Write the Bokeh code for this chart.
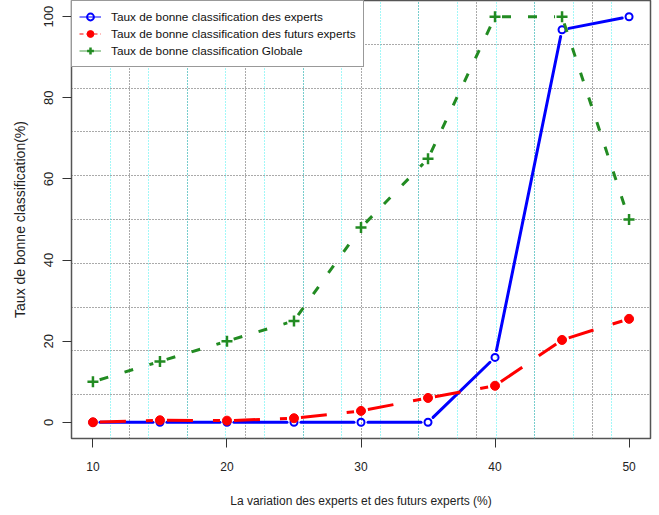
import numpy as np
from bokeh.plotting import figure
from bokeh.models import FixedTicker, Grid, Legend, LegendItem, Range1d, ColumnDataSource
from bokeh.embed import file_html
from bokeh.resources import INLINE

# ---- data ----
variation = [10, 15, 20, 25, 30, 35, 40, 45, 50]
taux_experts = [0, 0, 0, 0, 0, 0, 16, 96.8, 100]
taux_futurs = [0, 0.5, 0.4, 1.0, 2.8, 6.0, 9.0, 20.3, 25.5]
taux_global = [10, 15, 20, 25, 48, 65, 100, 100, 50]

x_ticks = [10, 20, 30, 40, 50]
y_ticks = [0, 20, 40, 60, 80, 100]

labels = [
    "Taux de bonne classification des experts",
    "Taux de bonne classification des futurs experts",
    "Taux de bonne classification Globale",
]
x_title = "La variation des experts et des futurs experts (%)"
y_title = "Taux de bonne classification(%)"

# ---- layout ----
FW, FH = 579, 438
xmin, xmax = min(variation), max(variation)
all_y = taux_experts + taux_futurs + taux_global
ymin, ymax = min(all_y), max(all_y)
xpad = (xmax - xmin) * 0.04
ypad = (ymax - ymin) * 0.04
X0, X1 = xmin - xpad, xmax + xpad
Y0, Y1 = ymin - ypad, ymax + ypad
SX = FW / (X1 - X0)
SY = FH / (Y1 - Y0)

FONT = "'Liberation Sans', Arial, sans-serif"

p = figure(frame_width=FW, frame_height=FH, output_backend="svg", toolbar_location=None,
           x_range=Range1d(X0, X1), y_range=Range1d(Y0, Y1),
           min_border_left=71, min_border_right=8, min_border_top=0, min_border_bottom=40)
p.background_fill_color = "white"
p.border_fill_color = "white"
p.outline_line_color = "#555555"
p.outline_line_width = 1.5
p.xgrid.visible = False
p.ygrid.visible = False

# grids (R style grid(10,10) in black dotted + vertical cyan grid(15))
gx_black = list(np.linspace(X0, X1, 11)[1:-1])
gy_black = list(np.linspace(Y0, Y1, 11)[1:-1])
gx_cyan = list(np.linspace(X0, X1, 16)[1:-1])
p.add_layout(Grid(dimension=0, ticker=FixedTicker(ticks=gx_black), grid_line_color="#555555",
                  grid_line_dash="1 2", grid_line_width=1))
p.add_layout(Grid(dimension=1, ticker=FixedTicker(ticks=gy_black), grid_line_color="#555555",
                  grid_line_dash="1 2", grid_line_width=1))
p.add_layout(Grid(dimension=0, ticker=FixedTicker(ticks=gx_cyan), grid_line_color="#44F0F0",
                  grid_line_dash="1 2", grid_line_width=1))

# axes
for ax in (p.xaxis[0], p.yaxis[0]):
    ax.axis_line_color = None
    ax.major_tick_out = 9
    ax.major_tick_in = 0
    ax.minor_tick_line_color = None
    ax.major_tick_line_color = "#333333"
    ax.major_label_text_color = "#222222"
    ax.axis_label_text_color = "#222222"
    ax.axis_label_text_font_style = "normal"

p.xaxis.ticker = FixedTicker(ticks=x_ticks)
p.yaxis.ticker = FixedTicker(ticks=y_ticks)
p.xaxis.axis_label = x_title
p.yaxis.axis_label = y_title
p.xaxis.major_label_text_font = FONT
p.xaxis.major_label_text_font_size = "12px"
p.xaxis.axis_label_text_font = FONT
p.xaxis.axis_label_text_font_size = "12px"
p.xaxis.major_label_standoff = 14
p.xaxis.axis_label_standoff = 20
p.yaxis.major_label_orientation = "vertical"
p.yaxis.major_label_text_font = FONT
p.yaxis.major_label_text_font_size = "13px"
p.yaxis.axis_label_text_font = FONT
p.yaxis.axis_label_text_font_size = "14px"
p.yaxis.major_label_standoff = 9
p.yaxis.axis_label_standoff = 14


def gapped(xs, ys, gap):
    a, b, c, d = [], [], [], []
    for i in range(len(xs) - 1):
        dx = (xs[i + 1] - xs[i]) * SX
        dy = (ys[i + 1] - ys[i]) * SY
        L = float(np.hypot(dx, dy))
        if L <= 2 * gap:
            continue
        t = gap / L
        a.append(xs[i] + (xs[i + 1] - xs[i]) * t)
        b.append(ys[i] + (ys[i + 1] - ys[i]) * t)
        c.append(xs[i + 1] - (xs[i + 1] - xs[i]) * t)
        d.append(ys[i + 1] - (ys[i + 1] - ys[i]) * t)
    return dict(x0=a, y0=b, x1=c, y1=d)


GAP = 7
BLUE, RED, GREEN = "#0000FF", "#FF0000", "#228B22"

seg_b = p.segment("x0", "y0", "x1", "y1", source=ColumnDataSource(gapped(variation, taux_experts, GAP)),
                  line_color=BLUE, line_width=3, line_cap="round")
sc_b = p.scatter(variation, taux_experts, marker="circle", size=7, fill_color=None,
                 line_color=BLUE, line_width=2)

seg_r = p.segment("x0", "y0", "x1", "y1", source=ColumnDataSource(gapped(variation, taux_futurs, GAP)),
                  line_color=RED, line_width=3, line_dash="26 20", line_cap="butt")
sc_r = p.scatter(variation, taux_futurs, marker="circle", size=9, fill_color=RED,
                 line_color=RED, line_width=1)

seg_g = p.segment("x0", "y0", "x1", "y1", source=ColumnDataSource(gapped(variation, taux_global, GAP)),
                  line_color=GREEN, line_width=3, line_dash="9 17", line_cap="butt")
sc_g = p.scatter(variation, taux_global, marker="cross", size=11, line_color=GREEN, line_width=2.5)

# thin line samples for the legend only (hidden in the plot, shown in the legend)
lg_b = p.line(variation, taux_experts, line_color=BLUE, line_width=1, visible=False)
lg_r = p.line(variation, taux_futurs, line_color=RED, line_width=1, line_dash="4 3", visible=False)
lg_g = p.line(variation, taux_global, line_color=GREEN, line_width=1, line_alpha=0.8, visible=False)

legend = Legend(items=[
    LegendItem(label=labels[0], renderers=[lg_b, sc_b]),
    LegendItem(label=labels[1], renderers=[lg_r, sc_r]),
    LegendItem(label=labels[2], renderers=[lg_g, sc_g]),
], location="top_left", margin=0, padding=7, spacing=0, glyph_width=22, glyph_height=17,
    label_height=17, label_standoff=10, border_line_color="#333333", border_line_width=1.2,
    background_fill_color="white", background_fill_alpha=1.0,
    inactive_fill_alpha=0.0,
    label_text_font=FONT, label_text_font_size="11.8px", label_text_color="#111111")
p.add_layout(legend)

open("out.html", "w").write(file_html(p, INLINE))
